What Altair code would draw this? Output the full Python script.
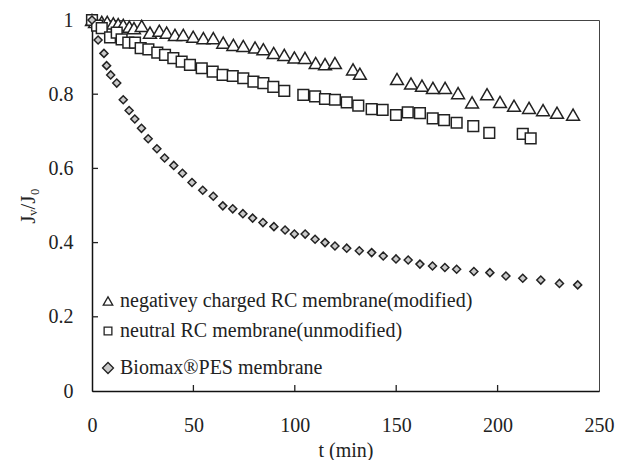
import altair as alt
import pandas as pd

# ---- data ----
series_names = [
    "negativey charged RC membrane(modified)",
    "neutral RC membrane(unmodified)",
    "Biomax®PES membrane",
]

t_tri = [0, 1.5, 4.8, 7.5, 10.5, 12.9, 15.4, 18.4, 20.7, 24.5, 28.6, 33.2, 36.8, 40.9, 45,
         49.9, 54.9, 59.8, 64.7, 69.7, 74.6, 80.4, 84.5, 89.6, 94.8, 99.8, 105, 110.3, 114.9,
         119.8, 128.7, 132.1, 150.4, 157.3, 162.7, 168.1, 174.1, 180.5, 187.4, 194.8, 201.2,
         208.1, 215.5, 222.4, 229.3, 237.2]
v_tri = [1.0, 0.995, 0.995, 0.995, 0.991, 0.989, 0.987, 0.982, 0.978, 0.984, 0.966, 0.971,
         0.966, 0.960, 0.960, 0.955, 0.951, 0.951, 0.939, 0.933, 0.930, 0.926, 0.921, 0.911,
         0.906, 0.899, 0.898, 0.884, 0.881, 0.884, 0.867, 0.855, 0.841, 0.829, 0.823, 0.817,
         0.817, 0.803, 0.778, 0.800, 0.779, 0.769, 0.763, 0.757, 0.750, 0.745]

t_sq = [0, 2.5, 4.8, 8.9, 12.2, 14.6, 17.9, 21.2, 24.0, 27.8, 32.2, 36.0, 40.1, 44.2, 48.3,
        54.1, 59.5, 64.4, 69.4, 74.6, 79.6, 84.5, 89.4, 94.8, 104.2, 110, 114.9, 119.8, 125.6,
        131.3, 137.9, 143.3, 149.9, 155.7, 161.7, 168, 173.6, 179.8, 188, 195.9, 212.4, 216.3]
v_sq = [1.0, 0.985, 0.978, 0.953, 0.966, 0.948, 0.939, 0.939, 0.924, 0.921, 0.912, 0.906,
        0.897, 0.888, 0.879, 0.870, 0.861, 0.852, 0.849, 0.843, 0.834, 0.830, 0.820, 0.809,
        0.798, 0.794, 0.787, 0.785, 0.778, 0.769, 0.760, 0.758, 0.744, 0.751, 0.749, 0.735,
        0.730, 0.723, 0.714, 0.696, 0.693, 0.681]

t_dia = [0, 3, 5.9, 7.2, 9.2, 12.2, 15.4, 18.3, 21.1, 24.4, 27.7, 32, 35.8, 40.3, 44.6, 49.3,
         54.6, 59.8, 64.5, 69.4, 74.4, 79.2, 84.3, 89.7, 95.2, 99.8, 105.1, 110, 114.9, 119.8,
         125.6, 131.8, 137.9, 143.6, 149.9, 155.9, 161.7, 167.9, 174, 179.8, 188.3, 196.2,
         204.1, 212.4, 221.3, 230.5, 239.5]
v_dia = [1.0, 0.946, 0.910, 0.877, 0.852, 0.830, 0.785, 0.756, 0.733, 0.708, 0.680, 0.653,
         0.628, 0.608, 0.587, 0.562, 0.541, 0.525, 0.499, 0.491, 0.478, 0.466, 0.454, 0.443,
         0.434, 0.423, 0.423, 0.409, 0.400, 0.391, 0.385, 0.378, 0.373, 0.364, 0.356, 0.353,
         0.342, 0.337, 0.333, 0.328, 0.322, 0.319, 0.310, 0.304, 0.299, 0.290, 0.286]

x_ticks = [0, 50, 100, 150, 200, 250]
y_ticks = [0, 0.2, 0.4, 0.6, 0.8, 1]

# ---- build table ----
rows = []
for name, ts, vs in zip(series_names, [t_tri, t_sq, t_dia], [v_tri, v_sq, v_dia]):
    rows += [{"series": name, "t": t, "v": v} for t, v in zip(ts, vs)]
df = pd.DataFrame(rows)

W, H = 507, 371
FONT = "Liberation Serif"
FS = 20
INK = "#222222"

xscale = alt.Scale(domain=[0, 250], nice=False)
yscale = alt.Scale(domain=[0, 1], nice=False)
shape_scale = alt.Scale(domain=series_names, range=["triangle-up", "square", "diamond"])
fill_scale = alt.Scale(domain=series_names, range=["white", "white", "#c9c9c9"])

points = alt.Chart(df).mark_point(
    filled=True, stroke=INK, strokeWidth=1.5, opacity=1
).encode(
    x=alt.X("t:Q", scale=xscale, axis=alt.Axis(
        values=x_ticks, tickSize=0, labelPadding=24, grid=False, labelFlush=False,
        labelFont=FONT, labelFontSize=FS, labelColor=INK,
        title="t (min)", titleFont=FONT, titleFontSize=FS, titleFontWeight="normal",
        titleColor=INK, titlePadding=5, domainColor="#111", domainWidth=1.5,
    )),
    y=alt.Y("v:Q", scale=yscale, axis=alt.Axis(
        values=y_ticks, labelExpr="format(datum.value, '~g')", tickSize=0, labelPadding=19,
        grid=False, labelFlush=False, labelFont=FONT, labelFontSize=FS, labelColor=INK,
        title="Jᵥ/J₀", titleFont=FONT, titleFontSize=21, titleFontWeight="normal",
        titleColor=INK, titlePadding=10, domainColor="#111", domainWidth=1.5,
    )),
    shape=alt.Shape("series:N", scale=shape_scale, legend=None),
    fill=alt.Fill("series:N", scale=fill_scale, legend=None),
    size=alt.Size("series:N", scale=alt.Scale(
        domain=series_names, range=[165, 64, 230]), legend=None),
)

ytick = alt.Chart(pd.DataFrame({"v": y_ticks[1:-1]})).mark_rule(
    color=INK, strokeWidth=1.3
).encode(y=alt.Y("v:Q", scale=yscale), x=alt.value(0), x2=alt.value(6))

xtick = alt.Chart(pd.DataFrame({"t": x_ticks[1:-1]})).mark_rule(
    color=INK, strokeWidth=1.3
).encode(x=alt.X("t:Q", scale=xscale), y=alt.value(H), y2=alt.value(H - 6))

# ---- legend drawn inside the plot (lower left) ----
legend_y = [281, 311, 348]
legend_size = [90, 60, 120]
legend_layers = []
for name, ly, ls in zip(series_names, legend_y, legend_size):
    ldf = pd.DataFrame({"series": [name]})
    sym = alt.Chart(ldf).mark_point(
        filled=True, stroke=INK, strokeWidth=1.3, opacity=1, size=ls
    ).encode(
        x=alt.value(16), y=alt.value(ly),
        shape=alt.Shape("series:N", scale=shape_scale, legend=None),
        fill=alt.Fill("series:N", scale=fill_scale, legend=None),
    )
    txt = alt.Chart(ldf).mark_text(
        align="left", baseline="middle", font=FONT, fontSize=FS, color=INK
    ).encode(x=alt.value(28), y=alt.value(ly), text="series:N")
    legend_layers += [sym, txt]

chart = alt.layer(points, xtick, ytick, *legend_layers).properties(
    width=W, height=H,
    padding={"left": 92, "top": 20, "right": 21, "bottom": 69},
    autosize=alt.AutoSizeParams(type="none"),
    background="white",
).configure_view(stroke="#444", strokeWidth=1)

chart.save("out.html", embed_options={"renderer": "svg", "actions": False})
